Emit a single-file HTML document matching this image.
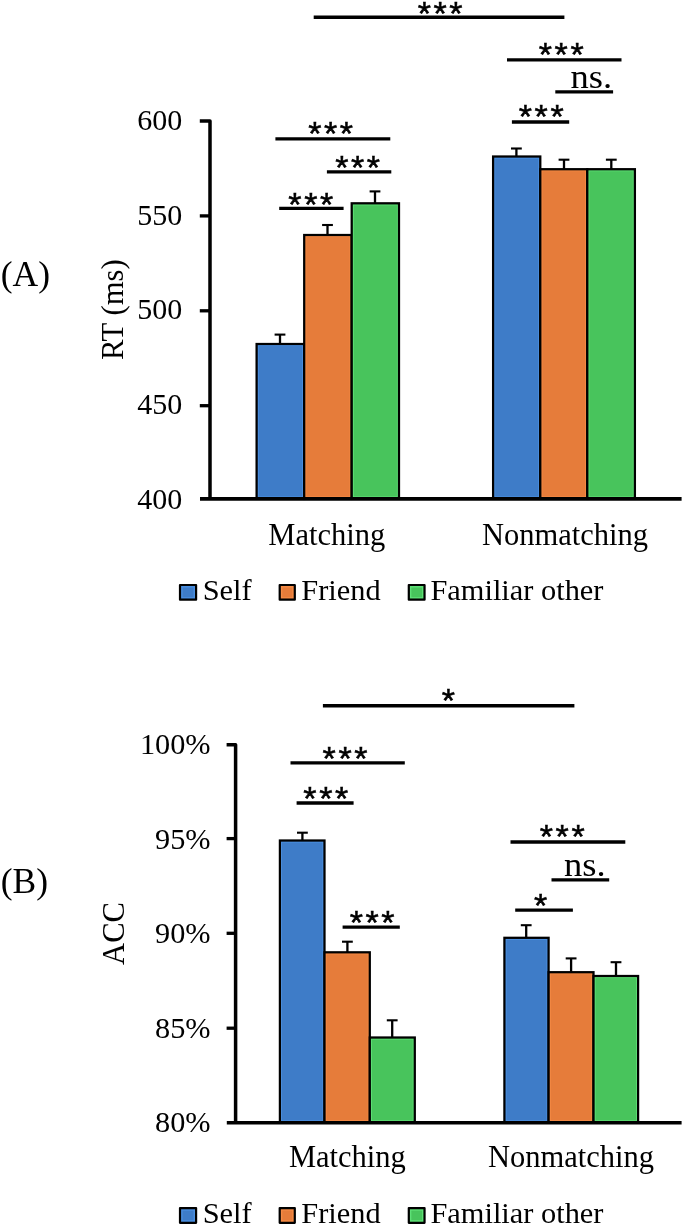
<!DOCTYPE html>
<html lang="en"><head><meta charset="utf-8"><title>Figure</title>
<style>
html,body{margin:0;padding:0;background:#fff;}
body{width:685px;height:1226px;overflow:hidden;}
svg{display:block;}
text{font-family:"Liberation Serif", "DejaVu Serif", serif;fill:#000;}
.st{font-family:"Liberation Sans","DejaVu Sans",sans-serif;stroke:#000;stroke-width:0.5px;}
</style></head><body>
<svg width="685" height="1226" viewBox="0 0 685 1226">
<rect width="685" height="1226" fill="#fff"/>
<rect x="256.6" y="344.0" width="47.60" height="154.90" fill="#3e7cc8"/>
<rect x="258.20" y="345.60" width="44.40" height="151.30" fill="none" stroke="#4a8fe0" stroke-width="1"/>
<rect x="256.6" y="344.0" width="47.60" height="154.90" fill="none" stroke="#000" stroke-width="2.25"/>
<rect x="304.2" y="235.0" width="47.50" height="263.90" fill="#e67c3a"/>
<rect x="305.80" y="236.60" width="44.30" height="260.30" fill="none" stroke="#f58b45" stroke-width="1"/>
<rect x="304.2" y="235.0" width="47.50" height="263.90" fill="none" stroke="#000" stroke-width="2.25"/>
<rect x="351.7" y="203.3" width="47.30" height="295.60" fill="#48c45c"/>
<rect x="353.30" y="204.90" width="44.10" height="292.00" fill="none" stroke="#5ee076" stroke-width="1"/>
<rect x="351.7" y="203.3" width="47.30" height="295.60" fill="none" stroke="#000" stroke-width="2.25"/>
<rect x="493.1" y="156.5" width="47.20" height="342.40" fill="#3e7cc8"/>
<rect x="494.70" y="158.10" width="44.00" height="338.80" fill="none" stroke="#4a8fe0" stroke-width="1"/>
<rect x="493.1" y="156.5" width="47.20" height="342.40" fill="none" stroke="#000" stroke-width="2.25"/>
<rect x="540.3" y="169.2" width="47.00" height="329.70" fill="#e67c3a"/>
<rect x="541.90" y="170.80" width="43.80" height="326.10" fill="none" stroke="#f58b45" stroke-width="1"/>
<rect x="540.3" y="169.2" width="47.00" height="329.70" fill="none" stroke="#000" stroke-width="2.25"/>
<rect x="587.3" y="169.2" width="47.60" height="329.70" fill="#48c45c"/>
<rect x="588.90" y="170.80" width="44.40" height="326.10" fill="none" stroke="#5ee076" stroke-width="1"/>
<rect x="587.3" y="169.2" width="47.60" height="329.70" fill="none" stroke="#000" stroke-width="2.25"/>
<line x1="280.0" y1="334.6" x2="280.0" y2="344.0" stroke="#000" stroke-width="2.3" stroke-linecap="butt"/>
<line x1="274.6" y1="334.6" x2="285.4" y2="334.6" stroke="#000" stroke-width="2.1" stroke-linecap="butt"/>
<line x1="327.5" y1="225.0" x2="327.5" y2="235.0" stroke="#000" stroke-width="2.3" stroke-linecap="butt"/>
<line x1="322.1" y1="225.0" x2="332.9" y2="225.0" stroke="#000" stroke-width="2.1" stroke-linecap="butt"/>
<line x1="375.0" y1="191.4" x2="375.0" y2="203.3" stroke="#000" stroke-width="2.3" stroke-linecap="butt"/>
<line x1="369.6" y1="191.4" x2="380.4" y2="191.4" stroke="#000" stroke-width="2.1" stroke-linecap="butt"/>
<line x1="516.4" y1="148.5" x2="516.4" y2="156.5" stroke="#000" stroke-width="2.3" stroke-linecap="butt"/>
<line x1="511.0" y1="148.5" x2="521.8" y2="148.5" stroke="#000" stroke-width="2.1" stroke-linecap="butt"/>
<line x1="564.0" y1="159.7" x2="564.0" y2="169.2" stroke="#000" stroke-width="2.3" stroke-linecap="butt"/>
<line x1="558.6" y1="159.7" x2="569.4" y2="159.7" stroke="#000" stroke-width="2.1" stroke-linecap="butt"/>
<line x1="611.3" y1="159.7" x2="611.3" y2="169.2" stroke="#000" stroke-width="2.3" stroke-linecap="butt"/>
<line x1="605.9" y1="159.7" x2="616.6999999999999" y2="159.7" stroke="#000" stroke-width="2.1" stroke-linecap="butt"/>
<path d="M199.8,120.9 H210.0 V498.9" fill="none" stroke="#000" stroke-width="3.5" stroke-linejoin="round"/>
<line x1="200.0" y1="498.9" x2="681.6" y2="498.9" stroke="#000" stroke-width="3.6" stroke-linecap="butt"/>
<text x="182.3" y="129.8" font-size="30" text-anchor="end" >600</text>
<line x1="199.8" y1="215.9" x2="210.0" y2="215.9" stroke="#000" stroke-width="3.3" stroke-linecap="butt"/>
<text x="182.3" y="224.5" font-size="30" text-anchor="end" >550</text>
<line x1="199.8" y1="310.8" x2="210.0" y2="310.8" stroke="#000" stroke-width="3.3" stroke-linecap="butt"/>
<text x="182.3" y="319.2" font-size="30" text-anchor="end" >500</text>
<line x1="199.8" y1="405.7" x2="210.0" y2="405.7" stroke="#000" stroke-width="3.3" stroke-linecap="butt"/>
<text x="182.3" y="413.9" font-size="30" text-anchor="end" >450</text>
<text x="182.3" y="508.5" font-size="30" text-anchor="end" >400</text>
<line x1="313.7" y1="17.3" x2="564.4" y2="17.3" stroke="#000" stroke-width="3.4" stroke-linecap="butt"/>
<text x="424.25 440.10 455.95" y="24.65" font-size="34" text-anchor="middle" class="st">***</text>
<line x1="507" y1="59.9" x2="621.5" y2="59.9" stroke="#000" stroke-width="3.4" stroke-linecap="butt"/>
<text x="545.35 561.20 577.05" y="65.80" font-size="34" text-anchor="middle" class="st">***</text>
<line x1="555.3" y1="91.9" x2="613.1" y2="91.9" stroke="#000" stroke-width="3.4" stroke-linecap="butt"/>
<text transform="translate(570.6,87.8) scale(1.075,1)" font-size="34">ns.</text>
<line x1="511.9" y1="122.0" x2="569.2" y2="122.0" stroke="#000" stroke-width="3.4" stroke-linecap="butt"/>
<text x="525.35 541.20 557.05" y="127.80" font-size="34" text-anchor="middle" class="st">***</text>
<line x1="275.4" y1="138.9" x2="390.3" y2="138.9" stroke="#000" stroke-width="3.4" stroke-linecap="butt"/>
<text x="314.75 330.60 346.45" y="145.15" font-size="34" text-anchor="middle" class="st">***</text>
<line x1="326.9" y1="171.85" x2="391.3" y2="171.85" stroke="#000" stroke-width="3.4" stroke-linecap="butt"/>
<text x="341.75 357.60 373.45" y="179.15" font-size="34" text-anchor="middle" class="st">***</text>
<line x1="279.2" y1="208.35" x2="343.6" y2="208.35" stroke="#000" stroke-width="3.4" stroke-linecap="butt"/>
<text x="294.95 310.80 326.65" y="215.55" font-size="34" text-anchor="middle" class="st">***</text>
<text x="326.8" y="544.8" font-size="30.5" text-anchor="middle" >Matching</text>
<text x="565" y="544.8" font-size="30.5" text-anchor="middle" >Nonmatching</text>
<rect x="180.0" y="585.00" width="16.1" height="14.7" fill="#3e7cc8"/>
<rect x="181.80" y="586.80" width="12.50" height="11.10" fill="none" stroke="#4a8fe0" stroke-width="1.5"/>
<rect x="180.0" y="585.00" width="16.1" height="14.7" fill="none" stroke="#000" stroke-width="2.2" stroke-linejoin="round"/>
<text transform="translate(202.7,600.00) scale(1.01,1)" font-size="30.1">Self</text>
<rect x="279.7" y="585.00" width="15.1" height="14.7" fill="#e67c3a"/>
<rect x="281.50" y="586.80" width="11.50" height="11.10" fill="none" stroke="#f58b45" stroke-width="1.5"/>
<rect x="279.7" y="585.00" width="15.1" height="14.7" fill="none" stroke="#000" stroke-width="2.2" stroke-linejoin="round"/>
<text transform="translate(301.3,600.00) scale(1.01,1)" font-size="30.1">Friend</text>
<rect x="408.8" y="585.00" width="15.75" height="14.7" fill="#48c45c"/>
<rect x="410.60" y="586.80" width="12.15" height="11.10" fill="none" stroke="#5ee076" stroke-width="1.5"/>
<rect x="408.8" y="585.00" width="15.75" height="14.7" fill="none" stroke="#000" stroke-width="2.2" stroke-linejoin="round"/>
<text transform="translate(430.4,600.00) scale(1.01,1)" font-size="30.1">Familiar other</text>
<text x="0.7" y="285.8" font-size="35.5" text-anchor="start" >(A)</text>
<text transform="translate(123.4,360.1) rotate(-90) scale(1.025,1.08)" font-size="30">RT (ms)</text>
<rect x="279.9" y="840.5" width="44.60" height="282.30" fill="#3e7cc8"/>
<rect x="281.50" y="842.10" width="41.40" height="278.70" fill="none" stroke="#4a8fe0" stroke-width="1"/>
<rect x="279.9" y="840.5" width="44.60" height="282.30" fill="none" stroke="#000" stroke-width="2.25"/>
<rect x="324.5" y="952.3" width="45.30" height="170.50" fill="#e67c3a"/>
<rect x="326.10" y="953.90" width="42.10" height="166.90" fill="none" stroke="#f58b45" stroke-width="1"/>
<rect x="324.5" y="952.3" width="45.30" height="170.50" fill="none" stroke="#000" stroke-width="2.25"/>
<rect x="369.8" y="1037.5" width="45.00" height="85.30" fill="#48c45c"/>
<rect x="371.40" y="1039.10" width="41.80" height="81.70" fill="none" stroke="#5ee076" stroke-width="1"/>
<rect x="369.8" y="1037.5" width="45.00" height="85.30" fill="none" stroke="#000" stroke-width="2.25"/>
<rect x="504.4" y="937.8" width="44.20" height="185.00" fill="#3e7cc8"/>
<rect x="506.00" y="939.40" width="41.00" height="181.40" fill="none" stroke="#4a8fe0" stroke-width="1"/>
<rect x="504.4" y="937.8" width="44.20" height="185.00" fill="none" stroke="#000" stroke-width="2.25"/>
<rect x="548.6" y="972.2" width="44.90" height="150.60" fill="#e67c3a"/>
<rect x="550.20" y="973.80" width="41.70" height="147.00" fill="none" stroke="#f58b45" stroke-width="1"/>
<rect x="548.6" y="972.2" width="44.90" height="150.60" fill="none" stroke="#000" stroke-width="2.25"/>
<rect x="593.5" y="976.0" width="44.60" height="146.80" fill="#48c45c"/>
<rect x="595.10" y="977.60" width="41.40" height="143.20" fill="none" stroke="#5ee076" stroke-width="1"/>
<rect x="593.5" y="976.0" width="44.60" height="146.80" fill="none" stroke="#000" stroke-width="2.25"/>
<line x1="302.4" y1="832.7" x2="302.4" y2="840.5" stroke="#000" stroke-width="2.3" stroke-linecap="butt"/>
<line x1="297.0" y1="832.7" x2="307.79999999999995" y2="832.7" stroke="#000" stroke-width="2.1" stroke-linecap="butt"/>
<line x1="347.4" y1="941.7" x2="347.4" y2="952.3" stroke="#000" stroke-width="2.3" stroke-linecap="butt"/>
<line x1="342.0" y1="941.7" x2="352.79999999999995" y2="941.7" stroke="#000" stroke-width="2.1" stroke-linecap="butt"/>
<line x1="392.2" y1="1020.3" x2="392.2" y2="1037.5" stroke="#000" stroke-width="2.3" stroke-linecap="butt"/>
<line x1="386.8" y1="1020.3" x2="397.59999999999997" y2="1020.3" stroke="#000" stroke-width="2.1" stroke-linecap="butt"/>
<line x1="526.2" y1="925.2" x2="526.2" y2="937.8" stroke="#000" stroke-width="2.3" stroke-linecap="butt"/>
<line x1="520.8000000000001" y1="925.2" x2="531.6" y2="925.2" stroke="#000" stroke-width="2.1" stroke-linecap="butt"/>
<line x1="571.1" y1="958.4" x2="571.1" y2="972.2" stroke="#000" stroke-width="2.3" stroke-linecap="butt"/>
<line x1="565.7" y1="958.4" x2="576.5" y2="958.4" stroke="#000" stroke-width="2.1" stroke-linecap="butt"/>
<line x1="616.0" y1="962.2" x2="616.0" y2="976.0" stroke="#000" stroke-width="2.3" stroke-linecap="butt"/>
<line x1="610.6" y1="962.2" x2="621.4" y2="962.2" stroke="#000" stroke-width="2.1" stroke-linecap="butt"/>
<path d="M226.6,744.8 H235.6 V1122.8" fill="none" stroke="#000" stroke-width="3.5" stroke-linejoin="round"/>
<line x1="226.8" y1="1122.8" x2="681.6" y2="1122.8" stroke="#000" stroke-width="3.6" stroke-linecap="butt"/>
<text x="210.6" y="753.9" font-size="30.3" text-anchor="end" >100%</text>
<line x1="226.6" y1="838.6" x2="235.6" y2="838.6" stroke="#000" stroke-width="3.3" stroke-linecap="butt"/>
<text x="210.6" y="848.5" font-size="30.3" text-anchor="end" >95%</text>
<line x1="226.6" y1="933.3" x2="235.6" y2="933.3" stroke="#000" stroke-width="3.3" stroke-linecap="butt"/>
<text x="210.6" y="943.2" font-size="30.3" text-anchor="end" >90%</text>
<line x1="226.6" y1="1028.2" x2="235.6" y2="1028.2" stroke="#000" stroke-width="3.3" stroke-linecap="butt"/>
<text x="210.6" y="1037.8" font-size="30.3" text-anchor="end" >85%</text>
<text x="210.6" y="1132.4" font-size="30.3" text-anchor="end" >80%</text>
<line x1="322.9" y1="705.8" x2="574.4" y2="705.8" stroke="#000" stroke-width="3.4" stroke-linecap="butt"/>
<text x="448.40" y="711.65" font-size="34" text-anchor="middle" class="st">*</text>
<line x1="290.5" y1="762.85" x2="404.8" y2="762.85" stroke="#000" stroke-width="3.4" stroke-linecap="butt"/>
<text x="329.15 345.00 360.85" y="770.15" font-size="34" text-anchor="middle" class="st">***</text>
<line x1="296.6" y1="803.05" x2="353.6" y2="803.05" stroke="#000" stroke-width="3.4" stroke-linecap="butt"/>
<text x="309.95 325.80 341.65" y="810.15" font-size="34" text-anchor="middle" class="st">***</text>
<line x1="342.6" y1="927.1" x2="399.8" y2="927.1" stroke="#000" stroke-width="3.4" stroke-linecap="butt"/>
<text x="356.25 372.10 387.95" y="934.30" font-size="34" text-anchor="middle" class="st">***</text>
<line x1="510.5" y1="841.95" x2="625.3" y2="841.95" stroke="#000" stroke-width="3.4" stroke-linecap="butt"/>
<text x="546.35 562.20 578.05" y="847.80" font-size="34" text-anchor="middle" class="st">***</text>
<line x1="551.5" y1="879.9" x2="609.2" y2="879.9" stroke="#000" stroke-width="3.4" stroke-linecap="butt"/>
<text transform="translate(563.9,875.6) scale(1.075,1)" font-size="34">ns.</text>
<line x1="515.2" y1="910.15" x2="572.9" y2="910.15" stroke="#000" stroke-width="3.4" stroke-linecap="butt"/>
<text x="540.65" y="917.25" font-size="34" text-anchor="middle" class="st">*</text>
<text x="347.4" y="1167.4" font-size="30.5" text-anchor="middle" >Matching</text>
<text x="571" y="1167.4" font-size="30.5" text-anchor="middle" >Nonmatching</text>
<rect x="180.0" y="1208.10" width="16.1" height="14.7" fill="#3e7cc8"/>
<rect x="181.80" y="1209.90" width="12.50" height="11.10" fill="none" stroke="#4a8fe0" stroke-width="1.5"/>
<rect x="180.0" y="1208.10" width="16.1" height="14.7" fill="none" stroke="#000" stroke-width="2.2" stroke-linejoin="round"/>
<text transform="translate(202.7,1223.10) scale(1.01,1)" font-size="30.1">Self</text>
<rect x="279.7" y="1208.10" width="15.1" height="14.7" fill="#e67c3a"/>
<rect x="281.50" y="1209.90" width="11.50" height="11.10" fill="none" stroke="#f58b45" stroke-width="1.5"/>
<rect x="279.7" y="1208.10" width="15.1" height="14.7" fill="none" stroke="#000" stroke-width="2.2" stroke-linejoin="round"/>
<text transform="translate(301.3,1223.10) scale(1.01,1)" font-size="30.1">Friend</text>
<rect x="408.8" y="1208.10" width="15.75" height="14.7" fill="#48c45c"/>
<rect x="410.60" y="1209.90" width="12.15" height="11.10" fill="none" stroke="#5ee076" stroke-width="1.5"/>
<rect x="408.8" y="1208.10" width="15.75" height="14.7" fill="none" stroke="#000" stroke-width="2.2" stroke-linejoin="round"/>
<text transform="translate(430.4,1223.10) scale(1.01,1)" font-size="30.1">Familiar other</text>
<text x="0.7" y="892.7" font-size="35.5" text-anchor="start" >(B)</text>
<text transform="translate(124,964.9) rotate(-90) scale(1.02,1.08)" font-size="30">ACC</text>
</svg>
</body></html>
